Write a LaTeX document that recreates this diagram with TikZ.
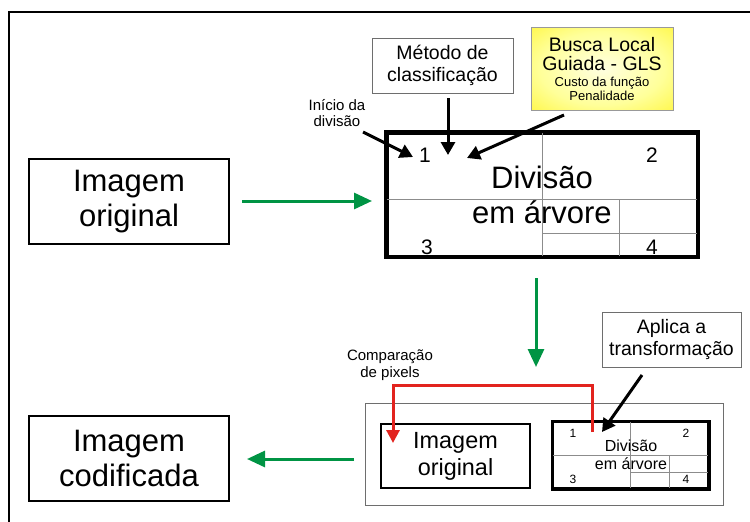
\documentclass[tikz,border=0pt]{standalone}
\usepackage{fontspec}
\setmainfont{Liberation Sans}
\usetikzlibrary{arrows.meta}
\definecolor{arrgreen}{RGB}{0,148,68}
\definecolor{arrred}{RGB}{226,35,30}
\definecolor{boxgray}{RGB}{110,110,110}
\definecolor{gridgray}{RGB}{140,140,140}
\definecolor{glsyellow}{RGB}{255,240,0}
\pgfdeclareradialshading{glsshade}{\pgfpoint{0bp}{0bp}}{color(0bp)=(yellow!12);color(22bp)=(yellow!40);color(50bp)=(glsyellow)}
\begin{document}
\begin{tikzpicture}[x=1pt,y=-1pt,
  bigbox/.style={draw=black,line width=2.5pt,inner sep=0pt,align=center,font=\fontsize{31}{35}\selectfont},
  thinbox/.style={draw=boxgray,line width=0.9pt,inner sep=0pt,align=center,font=\fontsize{19.5}{21.5}\selectfont},
  treebox/.style={draw=black,line width=3pt,inner sep=0pt},
  smallbox/.style={draw=black,line width=2.5pt,inner sep=0pt,align=center},
  grid/.style={draw=gridgray,line width=0.9pt},
  lbl/.style={inner sep=0pt,align=center,font=\fontsize{15}{16.5}\selectfont},
  bignum/.style={inner sep=0pt,font=\fontsize{21}{21}\selectfont},
  smallnum/.style={inner sep=0pt,font=\fontsize{12}{12}\selectfont},
  blackarr/.style={draw=black,line width=3pt,-{Triangle[length=13pt,width=14pt]}},
  greenarr/.style={draw=arrgreen,line width=3pt,-{Triangle[length=18pt,width=16pt]}},
  redarr/.style={draw=arrred,line width=3pt,-{Triangle[length=13pt,width=13pt]}}]
\useasboundingbox (0,0) rectangle (750,522);
\clip (0,0) rectangle (750,522);
% outer frame
\draw[line width=2pt] (9,12) rectangle (800,600);

% left boxes
\node[bigbox,minimum width=200pt,minimum height=85pt] (orig) at (129,201.5) {Imagem\\original};
\node[bigbox,minimum width=200pt,minimum height=85pt] (cod) at (129,458.5) {Imagem\\codificada};

% top labels
\node[thinbox,minimum width=141pt,minimum height=55pt] (metodo) at (442.5,65.5) {Método de\\classificação};
\node[draw=boxgray!70,line width=0.8pt,minimum width=142pt,minimum height=83pt,inner sep=0pt,
      shading=glsshade,align=center,
      font=\fontsize{19.5}{19}\selectfont] (gls) at (602,68.5)
      {Busca Local\\Guiada - GLS\\[-3pt]{\fontsize{13}{15}\selectfont Custo da função}\\[-5pt]{\fontsize{13}{15}\selectfont Penalidade}};
\node[lbl] (inicio) at (337,113) {Início da\\divisão};

% big tree box
\node[treebox,minimum width=310pt,minimum height=123pt] (tree) at (542,194.5) {};
\draw[grid] (542,133) -- (542,256);
\draw[grid] (387,199) -- (697,199);
\draw[grid] (619,199) -- (619,256);
\draw[grid] (542,233) -- (697,233);
\draw[black,line width=3pt] (tree.north west) rectangle (tree.south east);
\node[inner sep=0pt,align=center,font=\fontsize{31}{35}\selectfont] (treetxt) at (542,195) {Divisão\\em árvore};
\node[bignum] (n1) at (425,155) {1};
\node[bignum] (n2) at (652,155) {2};
\node[bignum] (n3) at (427,247) {3};
\node[bignum] (n4) at (652,247) {4};

% bottom composite
\node[draw=boxgray,line width=0.9pt,minimum width=358pt,minimum height=102pt,inner sep=0pt] (comp) at (544,454) {};
\node[smallbox,minimum width=149pt,minimum height=64pt,font=\fontsize{23.4}{27}\selectfont] (origs) at (455.5,456) {Imagem\\original};
\node[smallbox,minimum width=155pt,minimum height=66pt] (trees) at (630.5,455) {};
\draw[grid] (630,422) -- (630,488);
\draw[grid] (553,455) -- (708,455);
\draw[grid] (669,455) -- (669,488);
\draw[grid] (630,472) -- (708,472);
\draw[black,line width=2.5pt] (trees.north west) rectangle (trees.south east);
\node[inner sep=0pt,align=center,font=\fontsize{16}{18}\selectfont] (treestxt) at (631,455) {Divisão\\em árvore};
\node[smallnum] (m1) at (573,433) {1};
\node[smallnum] (m2) at (686,433) {2};
\node[smallnum] (m3) at (573,479) {3};
\node[smallnum] (m4) at (686,479) {4};

\node[thinbox,minimum width=139pt,minimum height=55pt] (aplica) at (671.5,339.5) {Aplica a\\transformação};
\node[lbl] (compar) at (390,365) {Comparação\\de pixels};

% coordinates for connector ends
\coordinate (g1s) at (242,201);
\coordinate (g1e) at (372,201);
\coordinate (g2s) at (536,278);
\coordinate (g2e) at (536,367);
\coordinate (g3s) at (354,459);
\coordinate (g3e) at (247,459);
\coordinate (a1s) at (363,132);
\coordinate (a1e) at (413,157);
\coordinate (a2s) at (448,98);
\coordinate (a2e) at (448,155);
\coordinate (a3s) at (564,115);
\coordinate (a3e) at (467,158);
\coordinate (a4s) at (642,375);
\coordinate (a4e) at (602,432);
\coordinate (rs) at (592,432);
\coordinate (rc1) at (592,385);
\coordinate (rc2) at (393,385);
\coordinate (re) at (393,443);

% green flow arrows
\draw[greenarr] (g1s) -- (g1e);
\draw[greenarr] (g2s) -- (g2e);
\draw[greenarr] (g3s) -- (g3e);

% black arrows
\draw[blackarr] (a1s) -- (a1e);
\draw[blackarr] (a2s) -- (a2e);
\draw[blackarr] (a3s) -- (a3e);
\draw[blackarr] (a4s) -- (a4e);

% red comparison arrow
\draw[redarr] (rs) -- (rc1) -- (rc2) -- (re);
\end{tikzpicture}
\end{document}
